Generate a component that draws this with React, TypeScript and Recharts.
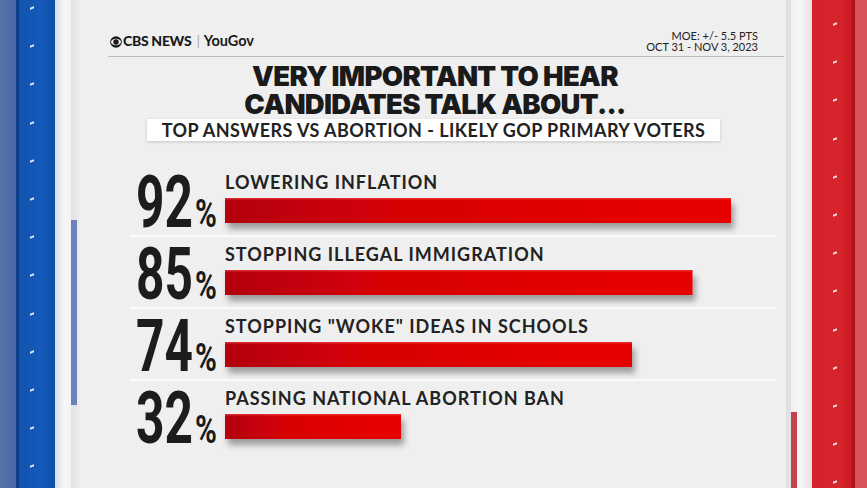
import { BarChart, Bar, XAxis, YAxis, LabelList } from 'recharts';

const categories = [
  'LOWERING INFLATION',
  'STOPPING ILLEGAL IMMIGRATION',
  'STOPPING "WOKE" IDEAS IN SCHOOLS',
  'PASSING NATIONAL ABORTION BAN',
];
const values = [92, 85, 74, 32];

const data = categories.map((name, i) => ({ name, value: values[i] }));

const W = 867;
const H = 488;
const TEXT = '#222';
const SANS = 'Lato, "Open Sans", "DejaVu Sans", sans-serif';

const BarShape = (props: any) => {
  const { x, y, width, height, index } = props;
  return (
    <g>
      {index < categories.length - 1 && (
        <line x1={130} x2={776} y1={y + height + 13} y2={y + height + 13} stroke="#fbfbfb" strokeWidth={2} />
      )}
      <rect x={x} y={y} width={width} height={height} fill="url(#barGrad)" filter="url(#barShadow)" />
      <rect x={x} y={y} width={width} height={1.5} fill="#f04545" opacity={0.6} />
    </g>
  );
};

const NameLabel = (props: any) => {
  const { x, y, value } = props;
  return (
    <text x={x} y={y - 9} fill={TEXT} fontFamily={SANS} fontWeight={700} fontSize={18} letterSpacing={1}>
      {value}
    </text>
  );
};

const PctLabel = (props: any) => {
  const { x, y, height, value } = props;
  const base = y + height + 4;
  return (
    <g fontFamily='Roboto, "DejaVu Sans", sans-serif' fontWeight={700} fill="#1c1c1c">
      <text transform={`translate(${x - 32},${base}) scale(0.69,1)`} fontSize={72} textAnchor="end">
        {value}
      </text>
      <text transform={`translate(${x - 30},${base}) scale(0.78,1)`} fontSize={38}>
        %
      </text>
    </g>
  );
};

const leftDashes = Array.from({ length: 13 }, (_, i) => 7 + i * 38.2);
const rightDashes = Array.from({ length: 13 }, (_, i) => 23 + i * 38.2);

const titleLine = {
  position: 'absolute' as const,
  left: 80,
  width: 710,
  height: 28,
  textAlign: 'center' as const,
  fontFamily: 'Inter, Lato, sans-serif',
  fontSize: 27.5,
  lineHeight: '28px',
  fontWeight: 900,
  color: '#1a1a1a',
  letterSpacing: -0.7,
  whiteSpace: 'nowrap' as const,
};

const moeLine = {
  position: 'absolute' as const,
  right: 867 - 758,
  fontSize: 11,
  lineHeight: '11px',
  height: 11,
  color: TEXT,
  textAlign: 'right' as const,
  whiteSpace: 'nowrap' as const,
};

export default function App() {
  return (
    <div
      style={{
        position: 'absolute',
        left: 0,
        top: 0,
        width: W,
        height: H,
        overflow: 'hidden',
        background: '#efefef',
        fontFamily: SANS,
      }}
    >
      {/* left pillar */}
      <div style={{ position: 'absolute', left: 0, top: 0, width: 16, height: H, background: 'linear-gradient(90deg,#5673ab,#4766a6)' }} />
      <div style={{ position: 'absolute', left: 16, top: 0, width: 3, height: H, background: '#0c3d8a' }} />
      <div style={{ position: 'absolute', left: 19, top: 0, width: 36, height: H, background: 'linear-gradient(90deg,#1253ad,#145aba 60%,#0f4ea5)' }} />
      <div style={{ position: 'absolute', left: 55, top: 0, width: 16, height: H, background: 'linear-gradient(90deg,#d9dbe2,#f7f7f9 60%,#f3f3f5)' }} />
      <div style={{ position: 'absolute', left: 71, top: 0, width: 9, height: H, background: 'linear-gradient(90deg,#e2e2e4,#ececec)' }} />
      <div style={{ position: 'absolute', left: 71, top: 220, width: 6, height: 185, background: '#6b83b9' }} />
      {leftDashes.map((d, i) => (
        <div key={i} style={{ position: 'absolute', left: 30, top: d, width: 4, height: 2, background: '#e8eef8', transform: 'skewY(-20deg)' }} />
      ))}
      {/* right pillar */}
      <div style={{ position: 'absolute', left: 786, top: 0, width: 5, height: H, background: '#e1e1e3' }} />
      <div style={{ position: 'absolute', left: 791, top: 0, width: 21, height: H, background: 'linear-gradient(90deg,#f3f0f1,#f8f5f6 50%,#e9dfe1)' }} />
      <div style={{ position: 'absolute', left: 791, top: 412, width: 6, height: 76, background: '#c0434a' }} />
      <div style={{ position: 'absolute', left: 812, top: 0, width: 40, height: H, background: 'linear-gradient(90deg,#d52129,#d7232b 70%,#c81820)' }} />
      <div style={{ position: 'absolute', left: 852, top: 0, width: 3, height: H, background: '#b30f18' }} />
      <div style={{ position: 'absolute', left: 855, top: 0, width: 12, height: H, background: '#d8545b' }} />
      {rightDashes.map((d, i) => (
        <div key={i} style={{ position: 'absolute', left: 833, top: d, width: 4, height: 2, background: '#f6e3e4', transform: 'skewY(-20deg)' }} />
      ))}

      {/* header */}
      <div style={{ position: 'absolute', left: 108, top: 56, width: 676, height: 1, background: '#bdbdbd' }} />
      <svg style={{ position: 'absolute', left: 110, top: 36 }} width={12} height={12}>
        <circle cx={6} cy={6} r={5.8} fill="#1a1a1a" />
        <ellipse cx={6} cy={6} rx={5} ry={3.2} fill="#efefef" />
        <circle cx={6} cy={6} r={2.7} fill="#1a1a1a" />
      </svg>
      <div style={{ position: 'absolute', left: 123, top: 32, fontSize: 14, fontWeight: 900, color: '#1a1a1a', letterSpacing: -0.3, whiteSpace: 'nowrap' }}>
        CBS NEWS<span style={{ color: '#aaa', fontWeight: 400, margin: '0 4px 0 5px' }}>|</span><span style={{ fontWeight: 700, letterSpacing: 0, fontSize: 14.5 }}>YouGov</span>
      </div>
      <div style={{ ...moeLine, top: 30 }}>MOE: +/- 5.5 PTS</div>
      <div style={{ ...moeLine, top: 41 }}>OCT 31 - NOV 3, 2023</div>

      {/* title */}
      <div style={{ ...titleLine, top: 62 }}>VERY IMPORTANT TO HEAR</div>
      <div style={{ ...titleLine, top: 90 }}>CANDIDATES TALK ABOUT...</div>
      <div
        style={{
          position: 'absolute',
          left: 147,
          top: 119,
          width: 573,
          height: 22,
          background: '#fff',
          boxShadow: '0 1px 3px rgba(0,0,0,0.18)',
          textAlign: 'center',
          fontSize: 18,
          lineHeight: '22px',
          fontWeight: 700,
          color: TEXT,
          letterSpacing: 0.45,
          whiteSpace: 'nowrap',
        }}
      >
        TOP ANSWERS VS ABORTION - LIKELY GOP PRIMARY VOTERS
      </div>

      <div style={{ position: 'absolute', left: 0, top: 0 }}>
        <BarChart
          width={W}
          height={H}
          data={data}
          layout="vertical"
          margin={{ top: 174, right: 136, bottom: 26, left: 225 }}
          barSize={25}
        >
          <defs>
            <linearGradient id="barGrad" x1="0" y1="0" x2="1" y2="0">
              <stop offset="0%" stopColor="#b3000b" />
              <stop offset="35%" stopColor="#d80006" />
              <stop offset="100%" stopColor="#e80000" />
            </linearGradient>
            <filter id="barShadow" x="-5%" y="-30%" width="112%" height="190%">
              <feDropShadow dx={3} dy={6} stdDeviation={3} floodColor="#000" floodOpacity={0.35} />
            </filter>
          </defs>
          <XAxis type="number" domain={[0, 92]} hide />
          <YAxis type="category" dataKey="name" hide />
          <Bar dataKey="value" shape={<BarShape />} isAnimationActive={false}>
            <LabelList dataKey="name" content={<NameLabel />} />
            <LabelList dataKey="value" content={<PctLabel />} />
          </Bar>
        </BarChart>
      </div>
    </div>
  );
}
